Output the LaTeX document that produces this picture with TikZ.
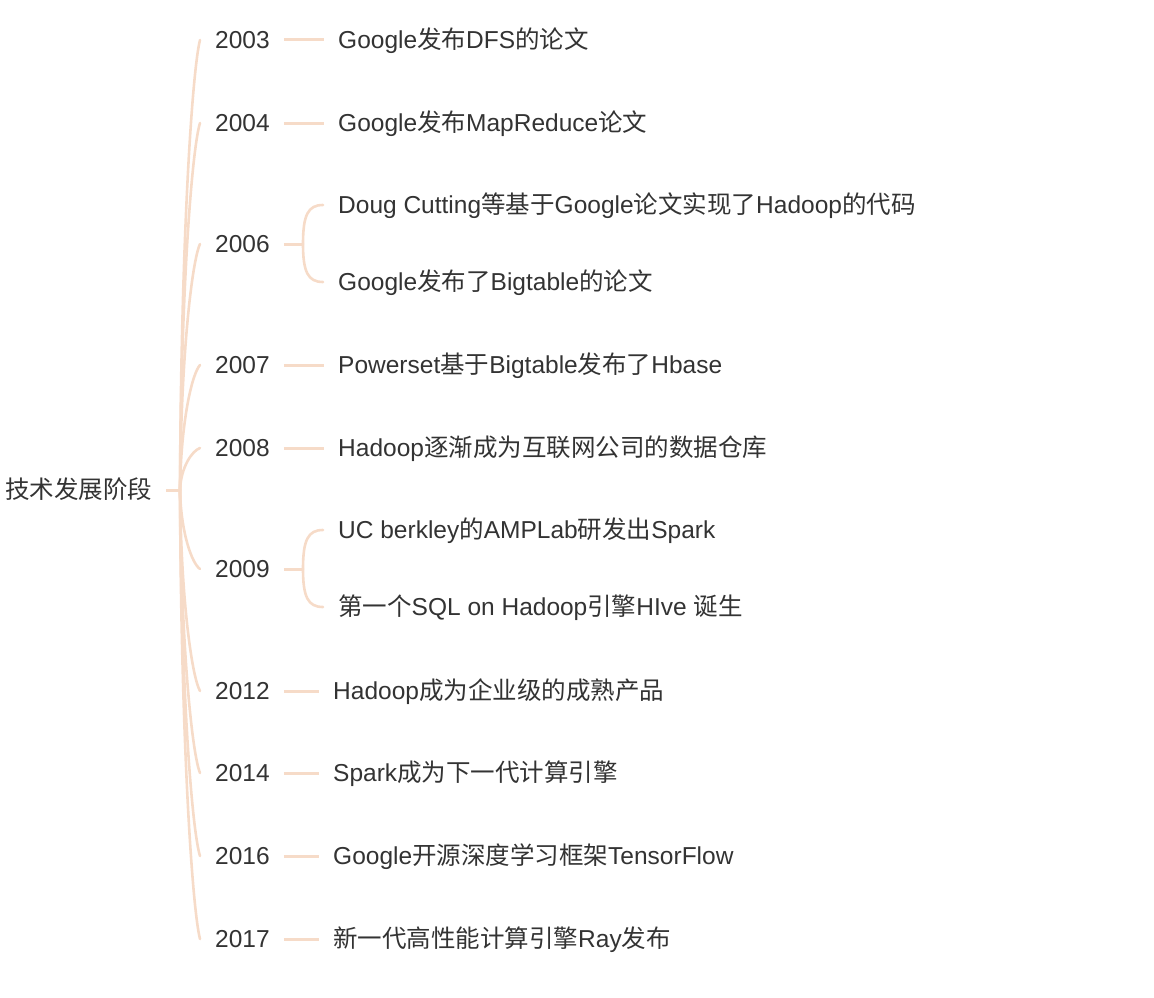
\documentclass[tikz,border=0pt]{standalone}
\usepackage{fontspec}
\setmainfont{Liberation Sans}
\newfontfamily\cjk{Noto Sans CJK SC}
\newcommand\zh[1]{{\cjk #1}}
\definecolor{branch}{RGB}{246,219,200}
\definecolor{ink}{RGB}{51,51,51}
\tikzset{
  lbl/.style={anchor=west, inner sep=0pt, text=ink, font=\fontsize{24.5}{28}\selectfont, text height=22pt, text depth=5pt},
  br/.style={draw=branch, line width=2.6pt, line cap=round},
  shortbr/.style={draw=branch, line width=3pt}
}
\begin{document}
\begin{tikzpicture}[x=1pt,y=-1pt]
\useasboundingbox (0,0) rectangle (1154,998);
% root
\node[lbl] (root) at (5,490) {\zh{技术发展阶段}};
\coordinate (j) at (180,490);
% years
\node[lbl] (y2003) at (215,40) {2003};
\node[lbl] (y2004) at (215,123) {2004};
\node[lbl] (y2006) at (215,244) {2006};
\node[lbl] (y2007) at (215,365) {2007};
\node[lbl] (y2008) at (215,448) {2008};
\node[lbl] (y2009) at (215,569) {2009};
\node[lbl] (y2012) at (215,691) {2012};
\node[lbl] (y2014) at (215,773) {2014};
\node[lbl] (y2016) at (215,856) {2016};
\node[lbl] (y2017) at (215,939) {2017};
% events
\node[lbl] (t2003) at (338,40) {Google\zh{发布}DFS\zh{的论文}};
\node[lbl] (t2004) at (338,123) {Google\zh{发布}MapReduce\zh{论文}};
\node[lbl] (t2006a) at (338,205) {Doug Cutting\zh{等基于}Google\zh{论文实现了}Hadoop\zh{的代码}};
\node[lbl] (t2006b) at (338,282) {Google\zh{发布了}Bigtable\zh{的论文}};
\node[lbl] (t2007) at (338,365) {Powerset\zh{基于}Bigtable\zh{发布了}Hbase};
\node[lbl] (t2008) at (338,448) {Hadoop\zh{逐渐成为互联网公司的数据仓库}};
\node[lbl] (t2009a) at (338,530) {UC berkley\zh{的}AMPLab\zh{研发出}Spark};
\node[lbl] (t2009b) at (338,607) {\zh{第一个}SQL on Hadoop\zh{引擎}HIve \zh{诞生}};
\node[lbl] (t2012) at (333,691) {Hadoop\zh{成为企业级的成熟产品}};
\node[lbl] (t2014) at (333,773) {Spark\zh{成为下一代计算引擎}};
\node[lbl] (t2016) at (333,856) {Google\zh{开源深度学习框架}TensorFlow};
\node[lbl] (t2017) at (333,939) {\zh{新一代高性能计算引擎}Ray\zh{发布}};
% root stem
\draw[shortbr] ([xshift=14pt]root.east) -- (j);
% curves to years
\foreach \n/\y in {y2003/40,y2004/123,y2006/244,y2007/365,y2008/448,y2009/569,y2012/691,y2014/773,y2016/856,y2017/939}
  \draw[br] (j) .. controls (181,{\y+0.45*(490-\y)}) and (192,{\y+0.07*(490-\y)}) .. ([xshift=-15pt]\n.west);
% single connectors
\foreach \a/\b in {y2003/t2003,y2004/t2004,y2007/t2007,y2008/t2008,y2012/t2012,y2014/t2014,y2016/t2016,y2017/t2017}
  \draw[shortbr] ([xshift=14pt]\a.east) -- ([xshift=-14pt]\b.west);
% brackets
\coordinate (b2006) at (303,244);
\coordinate (b2009) at (303,569);
\draw[shortbr] ([xshift=14pt]y2006.east) -- (b2006);
\draw[shortbr] ([xshift=14pt]y2009.east) -- (b2009);
\draw[br] (b2006) .. controls (303,215) and (308,205) .. ([xshift=-15pt]t2006a.west);
\draw[br] (b2006) .. controls (303,272) and (308,282) .. ([xshift=-15pt]t2006b.west);
\draw[br] (b2009) .. controls (303,540) and (308,530) .. ([xshift=-15pt]t2009a.west);
\draw[br] (b2009) .. controls (303,597) and (308,607) .. ([xshift=-15pt]t2009b.west);
\end{tikzpicture}
\end{document}
